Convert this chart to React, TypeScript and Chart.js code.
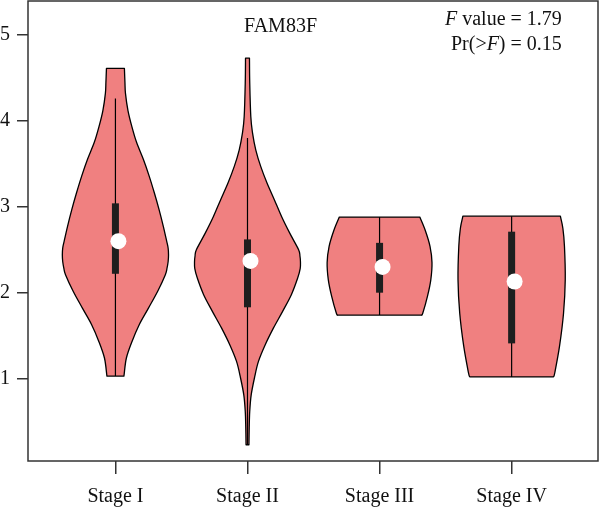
import React, { useEffect, useRef } from "react";
import { Chart, registerables } from "chart.js";
Chart.register(...registerables);

const categories = ["Stage I", "Stage II", "Stage III", "Stage IV"];
const yTickValues = [1, 2, 3, 4, 5];

// violin outlines: [expression value, half-width in category units]
const stageIProfile: number[][] = [
  [4.61, 0.068], [4.45, 0.072], [4.32, 0.076], [4.12, 0.095], [3.93, 0.125],
  [3.75, 0.16], [3.55, 0.212], [3.36, 0.255], [3.16, 0.295], [2.97, 0.33],
  [2.77, 0.363], [2.6, 0.388], [2.52, 0.399], [2.44, 0.402], [2.36, 0.399],
  [2.28, 0.39], [2.21, 0.378], [2.02, 0.321], [1.82, 0.25], [1.63, 0.181],
  [1.43, 0.125], [1.24, 0.083], [1.05, 0.066], [1.03, 0.064],
];
const stageIIProfile: number[][] = [
  [4.73, 0.015], [4.44, 0.017], [4.05, 0.025], [3.86, 0.038], [3.66, 0.063],
  [3.47, 0.1], [3.28, 0.147], [3.08, 0.204], [2.89, 0.257], [2.69, 0.321],
  [2.5, 0.387], [2.43, 0.397], [2.36, 0.401], [2.28, 0.399], [2.17, 0.38],
  [1.98, 0.333], [1.78, 0.265], [1.59, 0.197], [1.4, 0.136], [1.2, 0.083],
  [1.01, 0.053], [0.81, 0.028], [0.62, 0.017], [0.43, 0.013], [0.23, 0.011],
];
const stageIIIProfile: number[][] = [
  [2.88, 0.305], [2.73, 0.345], [2.54, 0.382], [2.35, 0.397], [2.15, 0.388],
  [1.96, 0.363], [1.76, 0.327], [1.74, 0.317],
];
const stageIVProfile: number[][] = [
  [2.89, 0.369], [2.75, 0.388], [2.54, 0.4], [2.15, 0.406], [1.76, 0.393],
  [1.38, 0.363], [1.07, 0.327], [1.02, 0.317],
];
const profiles = [stageIProfile, stageIIProfile, stageIIIProfile, stageIVProfile];

const medians = [2.6, 2.37, 2.3, 2.13];
const q1 = [2.22, 1.83, 2.0, 1.41];
const q3 = [3.04, 2.62, 2.58, 2.71];
const whiskerLow = [1.03, 0.23, 1.74, 1.02];
const whiskerHigh = [4.26, 3.8, 2.88, 2.89];

const titleText = "FAM83F";
const fValueText = "1.79";
const pValueText = "0.15";

const FONT = "'Liberation Serif', 'Times New Roman', serif";
const FILL = "#F08080";
const AXIS = "#333333";
const TEXT = "#111111";

function catmull(ctx: CanvasRenderingContext2D, pts: number[][], first: boolean) {
  if (first) ctx.moveTo(pts[0][0], pts[0][1]);
  else ctx.lineTo(pts[0][0], pts[0][1]);
  for (let i = 0; i < pts.length - 1; i++) {
    const p0 = pts[Math.max(0, i - 1)];
    const p1 = pts[i];
    const p2 = pts[i + 1];
    const p3 = pts[Math.min(pts.length - 1, i + 2)];
    const c1x = p1[0] + (p2[0] - p0[0]) / 6;
    const c1y = p1[1] + (p2[1] - p0[1]) / 6;
    const c2x = p2[0] - (p3[0] - p1[0]) / 6;
    const c2y = p2[1] - (p3[1] - p1[1]) / 6;
    ctx.bezierCurveTo(c1x, c1y, c2x, c2y, p2[0], p2[1]);
  }
}

const violinPlugin = {
  id: "violins",
  beforeDatasetsDraw(chart: any) {
    const ctx: CanvasRenderingContext2D = chart.ctx;
    const xs = chart.scales.x;
    const ys = chart.scales.y;
    profiles.forEach((prof, i) => {
      const cx = xs.getPixelForValue(i + 1);
      const right = prof.map((p) => [xs.getPixelForValue(i + 1 + p[1]), ys.getPixelForValue(p[0])]);
      const left = prof
        .slice()
        .reverse()
        .map((p) => [xs.getPixelForValue(i + 1 - p[1]), ys.getPixelForValue(p[0])]);
      ctx.save();
      ctx.beginPath();
      catmull(ctx, right, true);
      catmull(ctx, left, false);
      ctx.closePath();
      ctx.fillStyle = FILL;
      ctx.fill();
      ctx.lineWidth = 1.3;
      ctx.strokeStyle = "#000";
      ctx.lineJoin = "round";
      ctx.stroke();

      // whisker
      ctx.beginPath();
      ctx.moveTo(cx, ys.getPixelForValue(whiskerLow[i]));
      ctx.lineTo(cx, ys.getPixelForValue(whiskerHigh[i]));
      ctx.lineWidth = 1.2;
      ctx.strokeStyle = "#000";
      ctx.stroke();

      // box
      const top = ys.getPixelForValue(q3[i]);
      const bot = ys.getPixelForValue(q1[i]);
      ctx.fillStyle = "#1e1e1e";
      ctx.fillRect(cx - 3.5, top, 7, bot - top);

      // median
      ctx.beginPath();
      ctx.arc(cx + 3, ys.getPixelForValue(medians[i]), 8, 0, Math.PI * 2);
      ctx.fillStyle = "#ffffff";
      ctx.fill();
      ctx.restore();
    });
  },
  afterDraw(chart: any) {
    const ctx: CanvasRenderingContext2D = chart.ctx;
    const a = chart.chartArea;
    const xs = chart.scales.x;
    const ys = chart.scales.y;
    ctx.save();
    ctx.strokeStyle = AXIS;
    ctx.lineWidth = 1.5;
    ctx.strokeRect(a.left, a.top, a.right - a.left, a.bottom - a.top);

    ctx.fillStyle = TEXT;
    ctx.textBaseline = "middle";
    ctx.font = `20px ${FONT}`;
    ctx.textAlign = "center";
    ctx.fillText(titleText, xs.getPixelForValue(2.25), ys.getPixelForValue(5.09));

    ctx.textAlign = "left";
    const rx = xs.getPixelForValue(4.38);
    const drawRuns = (runs: [string, boolean][], y: number) => {
      let total = 0;
      runs.forEach(([t, it]) => {
        ctx.font = `${it ? "italic " : ""}20px ${FONT}`;
        total += ctx.measureText(t).width;
      });
      let x = rx - total;
      runs.forEach(([t, it]) => {
        ctx.font = `${it ? "italic " : ""}20px ${FONT}`;
        ctx.fillText(t, x, y);
        x += ctx.measureText(t).width;
      });
    };
    drawRuns([["F", true], [" value = " + fValueText, false]], ys.getPixelForValue(5.174));
    drawRuns([["Pr(>", false], ["F", true], [") = " + pValueText, false]], ys.getPixelForValue(4.884));
    ctx.restore();
  },
};

export default function App() {
  const ref = useRef<HTMLCanvasElement>(null);
  useEffect(() => {
    if (!ref.current) return;
    const chart = new Chart(ref.current, {
      type: "scatter",
      data: { datasets: [{ data: [], pointRadius: 0 }] },
      options: {
        animation: false,
        responsive: false,
        events: [],
        layout: { padding: { top: 1, right: 2, left: 0, bottom: 0 } },
        plugins: { legend: { display: false }, tooltip: { enabled: false } },
        scales: {
          x: {
            type: "linear",
            min: 0.338,
            max: 4.654,
            afterBuildTicks: (s: any) => {
              s.ticks = categories.map((_, i) => ({ value: i + 1 }));
            },
            afterFit: (s: any) => {
              s.height = 51;
              s.paddingLeft = 0;
              s.paddingRight = 0;
            },
            ticks: {
              callback: (v: any) => categories[Math.round(Number(v)) - 1],
              font: { family: FONT, size: 20 },
              color: TEXT,
              padding: 11,
              maxRotation: 0,
              autoSkip: false,
            },
            grid: { drawOnChartArea: false, tickLength: 13, color: AXIS, lineWidth: 1.5 },
            border: { display: false },
          },
          y: {
            type: "linear",
            min: 0.041,
            max: 5.395,
            afterBuildTicks: (s: any) => {
              s.ticks = yTickValues.map((v) => ({ value: v }));
            },
            afterFit: (s: any) => {
              s.width = 28;
              s.paddingTop = 0;
              s.paddingBottom = 0;
            },
            ticks: {
              callback: (v: any) => String(v),
              font: { family: FONT, size: 20 },
              color: TEXT,
              padding: 7,
            },
            grid: { drawOnChartArea: false, tickLength: 11, color: AXIS, lineWidth: 1.5 },
            border: { display: false },
          },
        },
      },
      plugins: [violinPlugin],
    });
    return () => chart.destroy();
  }, []);
  return (
    <div style={{ position: "absolute", left: 0, top: 0, width: 600, height: 512 }}>
      <canvas ref={ref} width={600} height={512} style={{ display: "block" }} />
    </div>
  );
}
